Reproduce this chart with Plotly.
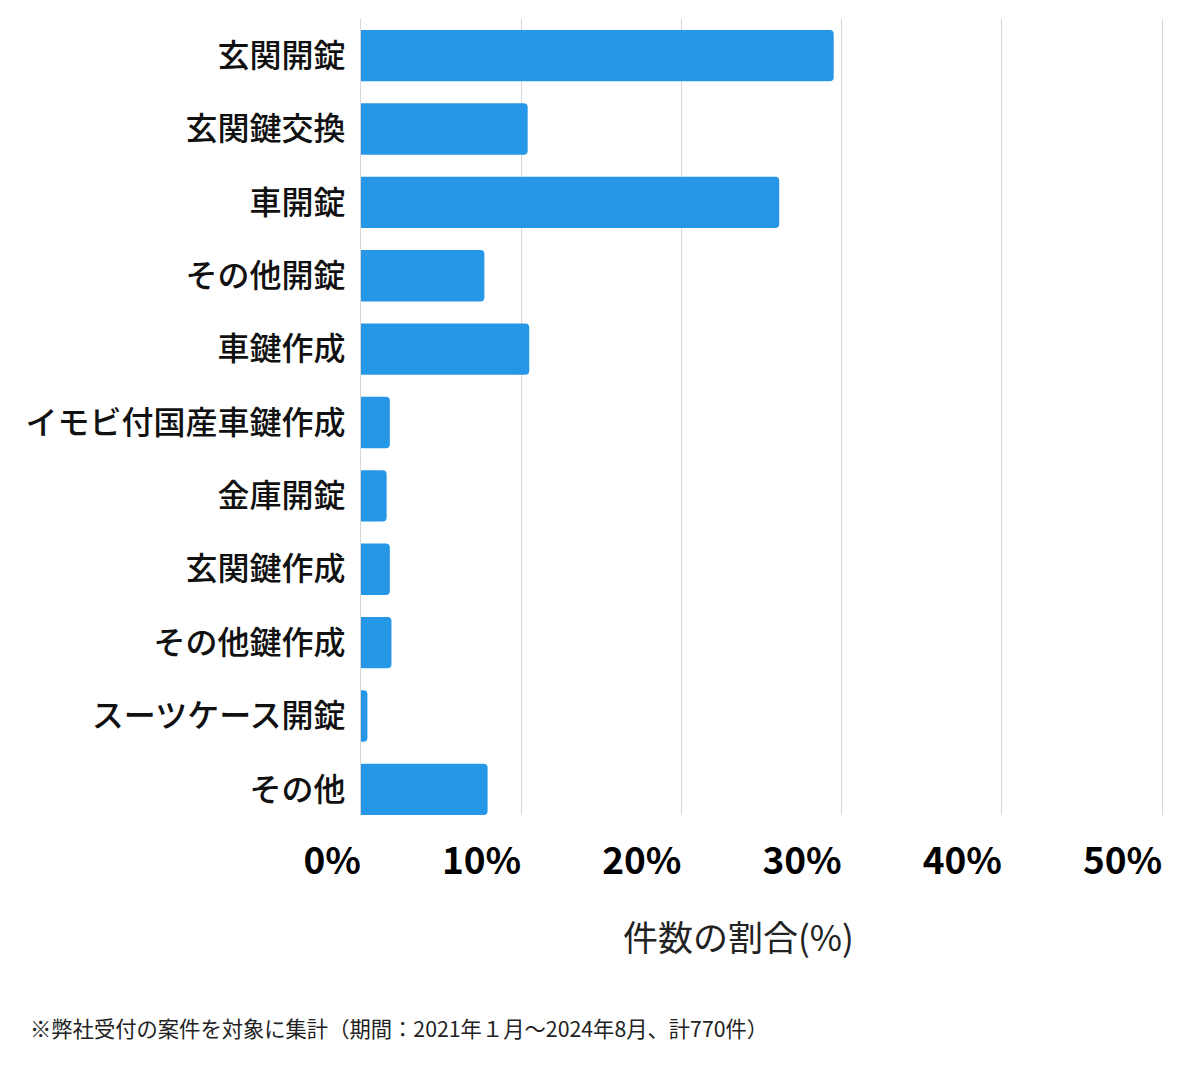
import plotly.graph_objects as go

# Data (percent of 770 cases)
categories = [
    "玄関開錠", "玄関鍵交換", "車開錠", "その他開錠", "車鍵作成",
    "イモビ付国産車鍵作成", "金庫開錠", "玄関鍵作成", "その他鍵作成",
    "スーツケース開錠", "その他",
]
shares = [29.5, 10.4, 26.1, 7.7, 10.5, 1.8, 1.6, 1.8, 1.9, 0.4, 7.9]
tick_vals = [0, 10, 20, 30, 40, 50]
tick_text = ["0%", "10%", "20%", "30%", "40%", "50%"]

FONT = "Noto Sans CJK JP"

# page has an 8px body margin, so the figure is drawn 8px in from the corner
W, H = 1184, 1053
XMAX = 50.3  # a little past 50 so the last grid line is still drawn
PL, PT, PB = 361 - 8, 19 - 8, 815 - 8
PR = PL + round(801 * XMAX / 50)

fig = go.Figure(go.Bar(
    x=shares,
    y=categories,
    orientation="h",
    marker=dict(color="#2696e6", line=dict(width=0)),
    hoverinfo="x+y",
))

fig.update_layout(
    width=W,
    height=H,
    margin=dict(l=PL, r=W - PR, t=PT, b=H - PB),
    paper_bgcolor="white",
    plot_bgcolor="white",
    bargap=0.30,
    barcornerradius=4,
    showlegend=False,
    font=dict(family=FONT, color="#111"),
)

fig.update_xaxes(
    range=[0, XMAX],
    tickvals=tick_vals,
    ticktext=tick_text,
    ticklabelposition="outside left",
    ticklabelstandoff=21,
    tickfont=dict(family=FONT, size=37, color="#000", weight="bold"),
    showgrid=True,
    gridcolor="#d6d6d6",
    gridwidth=1,
    zeroline=False,
    showline=False,
    fixedrange=True,
)

# grid stops at the bottom edge of the last bar, as in the source chart
fig.update_yaxes(
    range=[10.35, -0.5],
    tickfont=dict(family=FONT, size=32, color="#111", weight=500),
    ticklabelstandoff=8,
    showgrid=False,
    showline=True,
    linecolor="#d6d6d6",
    linewidth=1,
    fixedrange=True,
)

pw = PR - PL
ph = PB - PT

# axis title
fig.add_annotation(
    text="件数の割合(%)", xref="paper", yref="paper",
    x=(738 - 361) / pw, y=-(935 - 815) / ph,
    xanchor="center", yanchor="middle", showarrow=False,
    font=dict(family=FONT, size=35, color="#222"),
)

# footnote
fig.add_annotation(
    text="※弊社受付の案件を対象に集計（期間：2021年１月〜2024年8月、計770件）",
    xref="paper", yref="paper",
    x=(28 - 361) / pw, y=-(1027 - 815) / ph,
    xanchor="left", yanchor="middle", showarrow=False,
    font=dict(family=FONT, size=21.3, color="#222"),
)

fig.write_html("out.html")
